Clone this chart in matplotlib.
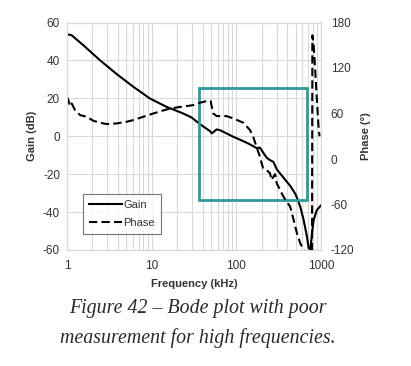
import numpy as np
import matplotlib.pyplot as plt

plt.rcParams['font.family'] = ['Liberation Sans', 'DejaVu Sans']
plt.rcParams['axes.unicode_minus'] = False

# gain curve (kHz, dB)
f_gain = [1, 1.135, 1.30, 1.56, 2.45, 3.86, 6.07, 9.55, 15.0, 23.6, 29.6, 37.2,
          48.8, 51.3, 58.5, 64.2, 92.3, 121, 145, 173, 190, 208, 228, 250, 274,
          300, 360, 433, 500, 569, 624, 683, 714, 748, 783, 819, 892, 976, 1000]
gain = [53.8, 53.3, 51.0, 48.0, 40.1, 32.8, 26.1, 19.9, 15.5, 12.0, 9.9, 6.4,
        2.7, 1.5, 3.6, 3.2, -0.3, -2.6, -4.3, -6.2, -6.0, -8.7, -11.3, -12.6, -13.5,
        -17.4, -21.8, -26.2, -30.5, -37.2, -44.2, -53.0, -59.0, -60.0, -51.0,
        -44.2, -39.0, -37.0, -36.5]

# phase curve (kHz, deg)
f_phase = [1, 1.037, 1.085, 1.135, 1.243, 1.425, 1.708, 2.047, 2.454, 2.94,
           3.86, 5.06, 6.07, 7.96, 10.5, 15.1, 19.8, 26.0, 31.0, 37.2, 44.6,
           49.7, 51.3, 53.3, 58.5, 76.7, 92.3, 121, 145, 158, 173, 190, 199,
           208, 228, 250, 261, 274, 287, 300, 329, 360, 433, 475, 520, 569,
           624, 683, 748, 783, 791, 819, 851, 892, 932, 960]
phase = [82.1, 77.7, 69.8, 73.3, 64.5, 57.9, 55.7, 50.4, 47.8, 46.1,
         46.9, 49.1, 51.3, 55.7, 60.1, 65.4, 68.0, 69.8, 71.1, 74.2, 76.4,
         76.4, 68.9, 60.1, 56.6, 56.6, 53.5, 47.8, 38.1, 29.4, 16.2, 3.0, -5.8,
         -12.4, -14.6, -18.9, -27.7, -23.3, -20.0, -32.1, -40.9, -49.7, -62.9,
         -80.4, -98.0, -111.2, -120.0, -125, -125, -125, 163, 150, 120, 80, 45, 30]

grid_c = '#d9d9d9'
txt_c = '#333333'

fig = plt.figure(figsize=(4.11, 3.66), dpi=100)
ax = fig.add_axes([67/411, 1 - 250/366, 254/411, 227.5/366])
ax2 = ax.twinx()

ax.set_xscale('log')
ax.set_xlim(1, 1000)
ax.set_ylim(-60, 60)
ax.set_yticks(np.arange(-60, 61, 20))
ax.set_xticks([1, 10, 100, 1000])
ax.set_xticklabels(['1', '10', '100', '1000'])
ax.grid(True, which='major', color=grid_c, lw=0.8)
ax.grid(True, which='minor', axis='x', color=grid_c, lw=0.8)
ax.tick_params(which='both', length=0, labelsize=8.5, colors=txt_c, pad=5)
ax.tick_params(axis='x', pad=7)
ax.set_axisbelow(True)

ax2.set_ylim(-120, 180)
ax2.set_yticks(np.arange(-120, 181, 60))
ax2.tick_params(length=0, labelsize=8.5, colors=txt_c, pad=7)

for a in (ax, ax2):
    for s in a.spines.values():
        s.set_color(grid_c)
        s.set_linewidth(0.8)

l1, = ax.plot(f_gain, gain, color='black', lw=1.5, label='Gain')
l2, = ax2.plot(f_phase, phase, color='black', lw=1.5, ls=(0, (4, 2)), label='Phase')

ax.set_xlabel('Frequency (kHz)', fontsize=8, fontweight='bold', color=txt_c, labelpad=5)
ax.set_ylabel('Gain (dB)', fontsize=8, fontweight='bold', color=txt_c, labelpad=4)
ax2.set_ylabel('Phase (°)', fontsize=8, fontweight='bold', color=txt_c, labelpad=5)

# highlighted region
ax.add_patch(plt.Rectangle((36.5, -33.6), 678 - 36.5, 25.3 + 33.6, fill=False,
                           ec='#2e9a9a', lw=2, zorder=5))

leg = ax.legend(handles=[l1, l2], loc='lower left', bbox_to_anchor=(0.04, 0.045),
                fontsize=8, frameon=True, fancybox=False, edgecolor='#555555',
                handlelength=3.0, handletextpad=0.1, borderpad=0.55, labelspacing=0.7)
leg.get_frame().set_linewidth(0.8)
for t in leg.get_texts():
    t.set_color(txt_c)

fig.text(198/411, 1 - 309/366, 'Figure 42 – Bode plot with poor', ha='center', va='center',
         fontsize=14.3, style='italic', family='Liberation Serif', color='#2a2a2a')
fig.text(198/411, 1 - 338/366, 'measurement for high frequencies.', ha='center', va='center',
         fontsize=14.3, style='italic', family='Liberation Serif', color='#2a2a2a')

fig.savefig('out.png', dpi=100)
